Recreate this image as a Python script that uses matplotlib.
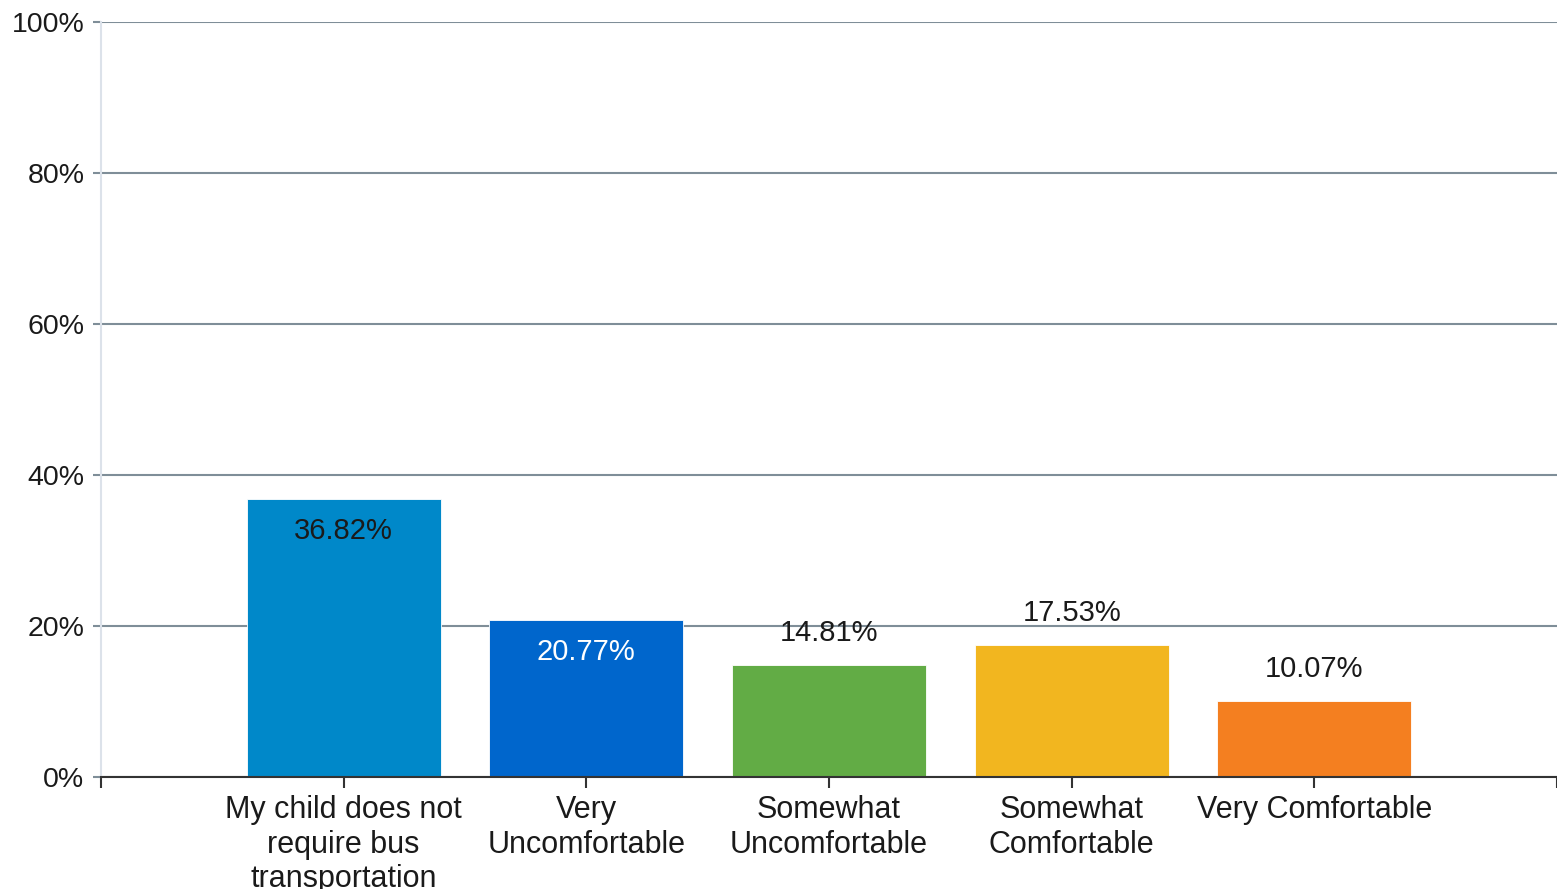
import matplotlib
matplotlib.use("Agg")
import matplotlib.pyplot as plt

# --------------------------
# Data
# --------------------------
categories = ["My child does not\nrequire bus\ntransportation",
              "Very\nUncomfortable",
              "Somewhat\nUncomfortable",
              "Somewhat\nComfortable",
              "Very Comfortable"]
values = [36.82, 20.77, 14.81, 17.53, 10.07]
colors = ["#0088C9", "#0066CC", "#62AC45", "#F2B61F", "#F47F20"]
# which labels sit inside the bar, and their text colour
inside = [True, True, False, False, False]
label_colors = ["#1a1a1a", "#ffffff", "#1a1a1a", "#1a1a1a", "#1a1a1a"]
yticks = [0, 20, 40, 60, 80, 100]

plt.rcParams['font.family'] = ['Liberation Sans', 'DejaVu Sans']

fig = plt.figure(figsize=(15.57, 8.89), dpi=100)
ax = fig.add_axes([101 / 1557, 1 - 777 / 889, 1 - 101 / 1557, (777 - 22) / 889])

x = list(range(1, len(values) + 1))
ax.bar(x, values, width=0.8, color=colors, edgecolor="#ffffff", linewidth=0.6, zorder=3)

for xi, v, ins, lc in zip(x, values, inside, label_colors):
    offset = -23 if ins else 23
    ax.annotate(f"{v:.2f}%", (xi, v), xytext=(0, offset), textcoords="offset points",
                ha="center", va="center", fontsize=21, color=lc, zorder=4)

ax.set_xlim(0, 6)
ax.set_ylim(0, 100)
ax.set_yticks(yticks)
ax.set_yticklabels([f"{t}%" for t in yticks], fontsize=20.5, color="#1a1a1a")
ax.set_xticks(range(0, 7))
ax.set_xticklabels([""] + categories + [""], fontsize=22, color="#1a1a1a", linespacing=1.2)

ax.grid(axis="y", color="#7f8e98", linewidth=1.5, zorder=0)
ax.tick_params(axis="y", length=6, width=1.5, color="#7f8e98", pad=6)
ax.tick_params(axis="x", length=8, width=1.5, color="#333333", pad=5)

for s in ["top", "right"]:
    ax.spines[s].set_visible(False)
ax.spines["left"].set_color("#dce2ea")
ax.spines["left"].set_linewidth(1.5)
ax.spines["bottom"].set_color("#333333")
ax.spines["bottom"].set_linewidth(1.5)
ax.spines["bottom"].set_zorder(5)

fig.savefig("out.png", dpi=100)
